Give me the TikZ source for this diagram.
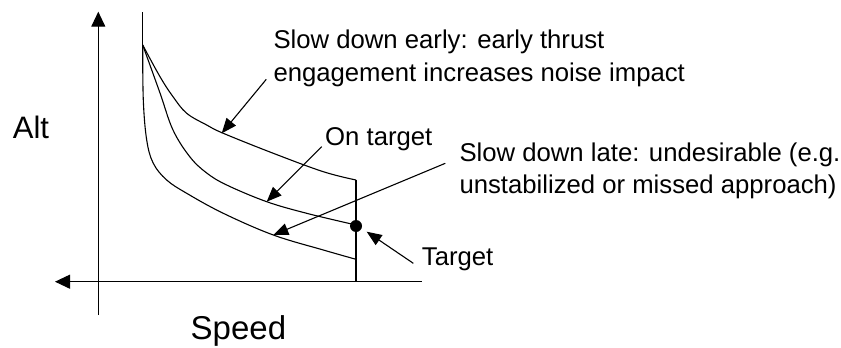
\documentclass[tikz,border=0pt]{standalone}
\usepackage{fontspec}
\setmainfont{Liberation Sans}
\usetikzlibrary{arrows.meta}

\tikzset{
  curve/.style={line width=1.1pt},
  axis/.style={line width=1.1pt, -{Triangle[length=15pt,width=14pt]}},
  callout/.style={line width=1.1pt, -{Triangle[length=15pt,width=12pt]}},
  label/.style={inner sep=0pt, anchor=base west, font=\fontsize{25.7}{30}\selectfont},
  biglabel/.style={inner sep=0pt, anchor=base west},
}

\begin{document}
\begin{tikzpicture}[x=1pt, y=-1pt]
  \useasboundingbox (0,0) rectangle (841,348);

  % axes
  \coordinate (origin) at (98.3,281.7);
  \coordinate (ytip) at (98.3,11.7);
  \coordinate (ybot) at (98.3,315);
  \coordinate (xtip) at (55,281.7);
  \coordinate (xend) at (421.7,281.7);
  \draw[axis] (ybot) -- (ytip);
  \draw[axis] (xend) -- (xtip);

  % common start of the three profiles
  \coordinate (start) at (142.7,45);
  \coordinate (stop) at (142.7,12);
  \draw[curve] (stop) -- (start);

  % upper profile: slow down early
  \draw[curve] plot[smooth, tension=0.6] coordinates {
    (142.7,45) (160,76.7) (173,96.7) (186.7,113.3) (206.7,125)
    (223.3,133.3) (273.3,153.3) (323.3,171.7) (356,180)};
  % middle profile: on target
  \draw[curve] plot[smooth, tension=0.6] coordinates {
    (142.7,45) (160,93) (173,130) (190,157) (206.7,173) (226.7,185)
    (266.7,201.7) (306.7,213.3) (356,225)};
  % lower profile: slow down late
  \draw[curve] plot[smooth, tension=0.6] coordinates {
    (142.7,45) (143.3,100) (146.7,140) (153.3,163.3) (166.7,180)
    (186.7,193.3) (223.3,213.3) (273.3,235) (323.3,250) (356,259.3)};

  % target gate
  \coordinate (gateTop) at (356,180);
  \coordinate (gateBot) at (356,281.7);
  \draw[curve] (gateTop) -- (gateBot);
  \node[circle, fill=black, inner sep=0pt, minimum size=12pt] (dot) at (356,226) {};

  % points pointed at on the profiles
  \coordinate (pEarly) at (221.7,133.3);
  \coordinate (pOn) at (266.7,201.7);
  \coordinate (pLate) at (273.3,235);
  \coordinate (pTarget) at (366.7,231.7);

  % axis labels
  \node[biglabel, font=\fontsize{31}{36}\selectfont] (alt) at (12.7,138.3) {Alt};
  \node[biglabel, font=\fontsize{33}{38}\selectfont] (speed) at (190.5,339) {Speed};

  % annotations
  \node[label] (early1) at (273.3,48.3) {Slow down early: early thrust};
  \node[label] (early2) at (273.3,81.7) {engagement increases noise impact};
  \node[label] (ontgt) at (325,145) {On target};
  \node[label] (late1) at (459.3,161.7) {Slow down late: undesirable (e.g.};
  \node[label] (late2) at (459.3,193.3) {unstabilized or missed approach)};
  \node[label] (tgt) at (421.7,265) {Target};

  % callout arrows
  \draw[callout] ([xshift=-7pt, yshift=2.4pt]early2.base west) -- (pEarly);
  \draw[callout] ([xshift=-3.3pt, yshift=-1.7pt]ontgt.base west) -- (pOn);
  \draw[callout] ([xshift=-14pt, yshift=-1.6pt]late1.base west) -- (pLate);
  \draw[callout] ([xshift=-8.4pt, yshift=1.7pt]tgt.base west) -- (pTarget);
\end{tikzpicture}
\end{document}
